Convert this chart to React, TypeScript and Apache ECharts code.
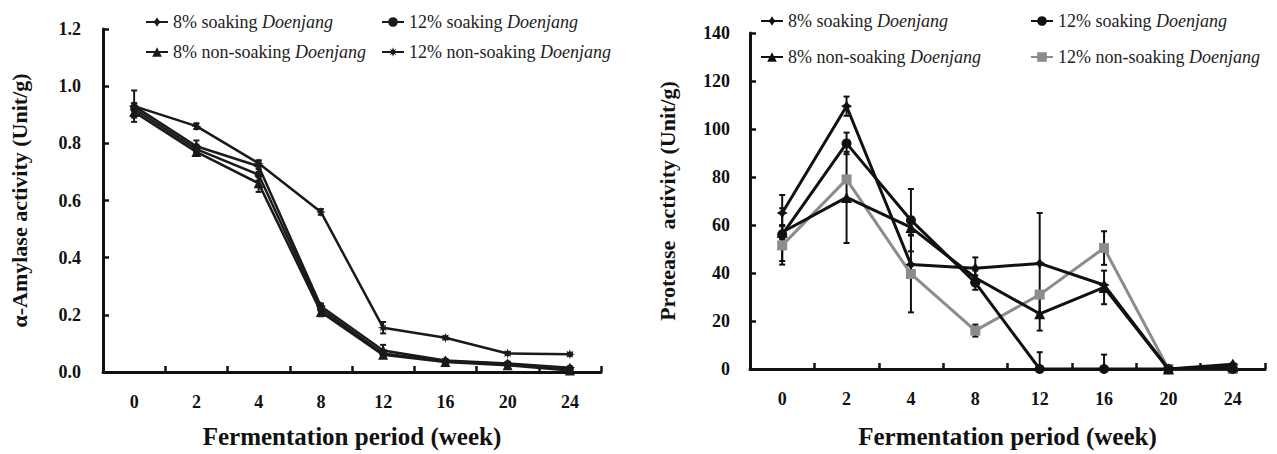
import React, { useEffect, useRef } from "react";
import * as echarts from "echarts";

// ---------- data ----------
const weeks = ["0", "2", "4", "8", "12", "16", "20", "24"];
const groupLabels = ["8% soaking", "12% soaking", "8% non-soaking", "12% non-soaking"];

// α-Amylase activity (Unit/g)
const amy8Soak = [0.93, 0.79, 0.72, 0.23, 0.075, 0.04, 0.03, 0.015];
const amy12Soak = [0.92, 0.78, 0.69, 0.22, 0.065, 0.038, 0.028, 0.01];
const amy8Non = [0.91, 0.77, 0.66, 0.21, 0.06, 0.035, 0.024, 0.005];
const amy12Non = [0.93, 0.86, 0.73, 0.56, 0.155, 0.12, 0.065, 0.062];
const amy8SoakErr = [0.055, 0.02, 0.02, 0.01, 0.02, 0.005, 0.005, 0.005];
const amy12SoakErr = [0.02, 0.015, 0.02, 0.015, 0.01, 0.005, 0.005, 0.005];
const amy8NonErr = [0.02, 0.01, 0.03, 0.015, 0.01, 0.005, 0.005, 0.005];
const amy12NonErr = [0.01, 0.01, 0.01, 0.01, 0.02, 0.005, 0.005, 0.005];

// Protease activity (Unit/g)
const pro8Soak = [65, 109.5, 43.5, 42, 44, 35, 0, 2];
const pro12Soak = [56, 94, 62, 36, 0, 0, 0, 0];
const pro8Non = [57, 71.5, 59, 38, 23, 34, 0, 1];
const pro12Non = [51.5, 79, 39.6, 16, 31, 50.4, 0, 0];
const pro8SoakErr = [7.5, 4, 0, 4.5, 21, 0, 0, 0];
const pro12SoakErr = [11, 4.5, 13, 3, 7, 6, 0, 0];
const pro8NonErr = [3, 19, 3, 3, 7, 7, 0, 0];
const pro12NonErr = [8, 0, 16, 2.5, 0, 7, 0, 0];

const amyTicks = [0, 0.2, 0.4, 0.6, 0.8, 1.0, 1.2];
const proTicks = [0, 20, 40, 60, 80, 100, 120, 140];

// ---------- style ----------
const SERIF = '"Liberation Serif", "Times New Roman", serif';
const STAR4 = "path://M0,-10L3.8,-3.8L10,0L3.8,3.8L0,10L-3.8,3.8L-10,0L-3.8,-3.8Z";
const ASTER = "path://M0,-10L2,-4L7,-7L4,-2L10,0L4,2L7,7L2,4L0,10L-2,4L-7,7L-4,2L-10,0L-4,-2L-7,-7L-2,-4Z";

const symbolsL = [STAR4, "circle", "triangle", ASTER];
const symbolsR = [STAR4, "circle", "triangle", "rect"];
const colorsL = ["#1a1a1a", "#1a1a1a", "#1a1a1a", "#1a1a1a"];
const colorsR = ["#111", "#111", "#111", "#8c8c8c"];

function App() {
  const ref = useRef<HTMLDivElement>(null);
  useEffect(() => {
    document.body.style.margin = "0";
    if (!ref.current) return;
    const chart = echarts.init(ref.current, null, { renderer: "svg" });

    const amyVals = [amy8Soak, amy12Soak, amy8Non, amy12Non];
    const amyErrs = [amy8SoakErr, amy12SoakErr, amy8NonErr, amy12NonErr];
    const proVals = [pro8Soak, pro12Soak, pro8Non, pro12Non];
    const proErrs = [pro8SoakErr, pro12SoakErr, pro8NonErr, pro12NonErr];

    const nameL = (i: number) => "α-Amylase · " + groupLabels[i];
    const nameR = (i: number) => "Protease · " + groupLabels[i];

    const errSeries = (gi: number, vals: number[], errs: number[], color: string, lw: number) => ({
      type: "custom",
      xAxisIndex: gi,
      yAxisIndex: gi,
      silent: true,
      z: 1,
      data: vals
        .map((v, i) => [i, Math.max(0, v - errs[i]), v + errs[i], errs[i]])
        .filter((d) => d[3] > 0),
      encode: { x: 0, y: [1, 2] },
      renderItem: (params: any, api: any) => {
        const x = api.value(0);
        const lo = api.coord([x, api.value(1)]);
        const hi = api.coord([x, api.value(2)]);
        const hw = 3;
        const st = { stroke: color, lineWidth: lw };
        return {
          type: "group",
          children: [
            { type: "line", shape: { x1: lo[0], y1: lo[1], x2: hi[0], y2: hi[1] }, style: st },
            { type: "line", shape: { x1: lo[0] - hw, y1: lo[1], x2: lo[0] + hw, y2: lo[1] }, style: st },
            { type: "line", shape: { x1: hi[0] - hw, y1: hi[1], x2: hi[0] + hw, y2: hi[1] }, style: st },
          ],
        };
      },
    });

    const series: any[] = [];
    amyVals.forEach((vals, i) => {
      series.push({
        name: nameL(i),
        type: "line",
        xAxisIndex: 0,
        yAxisIndex: 0,
        data: vals,
        symbol: symbolsL[i],
        symbolSize: i === 1 ? 8 : 10,
        lineStyle: { color: colorsL[i], width: 2.5 },
        itemStyle: { color: colorsL[i] },
        z: 3,
      });
      series.push(errSeries(0, vals, amyErrs[i], "#1a1a1a", 2));
    });
    proVals.forEach((vals, i) => {
      series.push({
        name: nameR(i),
        type: "line",
        xAxisIndex: 1,
        yAxisIndex: 1,
        data: vals,
        symbol: symbolsR[i],
        symbolSize: i === 3 ? 10 : i === 1 ? 10 : 11,
        lineStyle: { color: colorsR[i], width: 3 },
        itemStyle: { color: colorsR[i] },
        z: i === 3 ? 2 : 3,
      });
      series.push(errSeries(1, vals, proErrs[i], "#111", 2));
    });

    const legendText = {
      fontFamily: SERIF,
      fontSize: 18,
      color: "#222",
      rich: {
        a: { fontFamily: SERIF, fontSize: 18, color: "#222" },
        b: { fontFamily: SERIF, fontSize: 18, color: "#222", fontStyle: "italic" },
      },
    };
    const mkLegend = (name: string, left: number, top: number) => ({
      data: [name],
      left,
      top,
      padding: 0,
      itemWidth: 22,
      itemHeight: 12,
      selectedMode: false,
      textStyle: legendText,
      formatter: (n: string) => "{a|" + n.split(" · ")[1] + " }{b|Doenjang}",
    });

    const legends = [
      mkLegend(nameL(0), 145, 13),
      mkLegend(nameL(1), 381, 13),
      mkLegend(nameL(2), 145, 43),
      mkLegend(nameL(3), 381, 43),
      mkLegend(nameR(0), 760, 12),
      mkLegend(nameR(1), 1030, 12),
      mkLegend(nameR(2), 760, 48),
      mkLegend(nameR(3), 1030, 48),
    ];

    const axisLabel = { fontFamily: SERIF, fontWeight: "bold", fontSize: 18, color: "#111" };
    const nameStyleY = { fontFamily: SERIF, fontWeight: "bold", fontSize: 22, color: "#111" };
    const nameStyleX = { fontFamily: SERIF, fontWeight: "bold", fontSize: 25, color: "#111" };
    const axisLine = { show: true, lineStyle: { color: "#111", width: 3 } };
    const axisTick = { show: true, inside: true, length: 6, lineStyle: { color: "#111", width: 2.5 } };

    const mkX = (gi: number, gap: number) => ({
      type: "category",
      gridIndex: gi,
      data: weeks,
      boundaryGap: true,
      axisLine,
      axisTick,
      axisLabel: { ...axisLabel, margin: 21 },
      splitLine: { show: false },
      name: "Fermentation period (week)",
      nameLocation: "middle",
      nameGap: gap,
      nameTextStyle: nameStyleX,
    });

    const option: any = {
      animation: false,
      backgroundColor: "#fff",
      legend: legends,
      grid: [
        { left: 103, top: 29, width: 498, height: 343 },
        { left: 750, top: 33, width: 515, height: 339 },
      ],
      xAxis: [mkX(0, 52), mkX(1, 55)],
      yAxis: [
        {
          type: "value",
          gridIndex: 0,
          min: amyTicks[0],
          max: amyTicks[amyTicks.length - 1],
          interval: 0.2,
          axisLine,
          axisTick,
          splitLine: { show: false },
          axisLabel: { ...axisLabel, margin: 22, formatter: (v: number) => v.toFixed(1) },
          name: "α-Amylase activity (Unit/g)",
          nameLocation: "middle",
          nameGap: 73,
          nameTextStyle: nameStyleY,
        },
        {
          type: "value",
          gridIndex: 1,
          min: proTicks[0],
          max: proTicks[proTicks.length - 1],
          interval: 20,
          axisLine,
          axisTick,
          splitLine: { show: false },
          axisLabel: { ...axisLabel, margin: 20 },
          name: "Protease  activity (Unit/g)",
          nameLocation: "middle",
          nameGap: 72,
          nameTextStyle: nameStyleY,
        },
      ],
      series,
    };
    chart.setOption(option);
    return () => chart.dispose();
  }, []);
  return <div ref={ref} style={{ width: 1277, height: 454 }} />;
}

export default App;
